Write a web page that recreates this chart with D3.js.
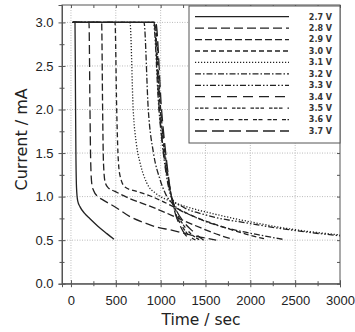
<!DOCTYPE html>
<html>
<head>
<meta charset="utf-8">
<script src="https://cdn.jsdelivr.net/npm/d3@7"></script>
<style>
  body { margin: 0; background: #fff; }
  svg { display: block; font-family: "DejaVu Sans", Verdana, sans-serif; }
</style>
</head>
<body>
<svg id="chart" width="355" height="332"></svg>
<script>
// data: [time (sec), current (mA)]
var voltages = ["2.7 V", "2.8 V", "2.9 V", "3.0 V", "3.1 V", "3.2 V", "3.3 V", "3.4 V", "3.5 V", "3.6 V", "3.7 V"];
var c27 = [[20,3.0],[45,3.0],[50,2.2],[55,1.5],[62,1.1],[75,0.95],[100,0.885],[150,0.81],[212,0.745],[300,0.66],[400,0.575],[480,0.51]];
var c28 = [[20,3.0],[201,3.0],[212,2.0],[220,1.4],[232,1.15],[252,1.07],[300,1.0],[360,0.96],[510,0.87],[658,0.77],[844,0.69],[992,0.64],[1104,0.62],[1330,0.56],[1620,0.5]];
var c29 = [[20,3.0],[342,3.0],[353,2.0],[362,1.4],[380,1.17],[416,1.1],[490,1.06],[650,0.98],[880,0.89],[1000,0.84],[1200,0.75],[1450,0.64],[1650,0.56],[1810,0.51]];
var c30 = [[20,3.0],[491,3.0],[510,2.0],[524,1.5],[545,1.25],[602,1.11],[732,1.06],[880,1.01],[992,0.96],[1150,0.88],[1400,0.76],[1700,0.65],[1950,0.57],[2180,0.51]];
var c31 = [[20,3.0],[658,3.0],[694,2.0],[730,1.6],[770,1.39],[844,1.16],[955,1.03],[1104,0.95],[1300,0.88],[1600,0.8],[2000,0.71],[2500,0.62],[3000,0.56]];
var c32 = [[20,3.0],[814,3.0],[862,2.0],[920,1.5],[992,1.2],[1060,1.02],[1150,0.9],[1350,0.78],[1600,0.68],[1900,0.6],[2150,0.55],[2360,0.51]];
var c33 = [[20,3.0],[918,3.0],[981,2.0],[1030,1.5],[1080,1.15],[1130,0.97],[1250,0.88],[1500,0.79],[2000,0.69],[2500,0.61],[3000,0.55]];
var c34 = [[20,3.0],[925,3.0],[985,2.0],[1040,1.45],[1100,1.08],[1160,0.88],[1250,0.72],[1360,0.6],[1480,0.5]];
var c35 = [[20,3.0],[930,3.0],[995,2.0],[1050,1.45],[1110,1.05],[1170,0.84],[1250,0.68],[1330,0.58],[1440,0.5]];
var c36 = [[20,3.0],[936,3.0],[1000,2.0],[1055,1.45],[1115,1.03],[1170,0.8],[1240,0.66],[1300,0.57],[1390,0.5]];
var c37 = [[20,3.0],[945,3.0],[1010,2.0],[1062,1.45],[1120,1.0],[1165,0.8],[1220,0.66],[1270,0.57],[1340,0.5]];
var curves = [c27, c28, c29, c30, c31, c32, c33, c34, c35, c36, c37];
var dashes = ["none", "9,4", "7,3", "5,3", "1.2,1.8", "6,2,1.5,2", "6,2,1.5,2,1.5,2", "10,6", "3.5,1.5,3.5,1.5,3.5,5", "4,1.5,4,5", "12,5"];
var xTicks = [0, 500, 1000, 1500, 2000, 2500, 3000];
var yTicks = [0, 0.5, 1.0, 1.5, 2.0, 2.5, 3.0];

var margin = {top: 5, right: 15, bottom: 48, left: 62},
    width = 355 - margin.left - margin.right,
    height = 332 - margin.top - margin.bottom - 0.3;

var svg = d3.select("#chart")
  .append("g")
  .attr("transform", `translate(${margin.left}, ${margin.top})`);

var x = d3.scaleLinear().domain([-100, 3000]).range([0, width]);
var y = d3.scaleLinear().domain([0, 3.2]).range([height, 0]);

// grid
svg.append("g").selectAll("line")
  .data(xTicks.filter(d => d < 3000))
  .enter().append("line")
  .attr("x1", d => x(d)).attr("x2", d => x(d))
  .attr("y1", 0).attr("y2", height)
  .attr("stroke", "#bbb").attr("stroke-dasharray", "1,1.5");
svg.append("g").selectAll("line")
  .data(yTicks.filter(d => d > 0))
  .enter().append("line")
  .attr("x1", 0).attr("x2", width)
  .attr("y1", d => y(d)).attr("y2", d => y(d))
  .attr("stroke", "#bbb").attr("stroke-dasharray", "1,1.5");

// axes
var minorX = d3.range(250, 3000, 500);
var minorY = d3.range(0.25, 3.2, 0.5);

var gx = svg.append("g")
  .attr("transform", `translate(0, ${height})`)
  .call(d3.axisBottom(x).tickValues(xTicks).tickFormat(d3.format("d")).tickSize(3.5).tickPadding(9));
gx.selectAll(".tick line").attr("y1", -3.5);
gx.selectAll(".tick text").attr("font-size", 13).attr("fill", "#222");
var gxm = svg.append("g")
  .attr("transform", `translate(0, ${height})`)
  .call(d3.axisBottom(x).tickValues(minorX).tickFormat("").tickSize(2.5));
gxm.selectAll(".tick line").attr("y1", -2.5);
gxm.select(".domain").remove();

var gy = svg.append("g")
  .call(d3.axisLeft(y).tickValues(yTicks).tickFormat(d3.format(".1f")).tickSize(3.5).tickPadding(5));
gy.selectAll(".tick line").attr("x1", 3.5);
gy.selectAll(".tick text").attr("font-size", 13).attr("fill", "#222");
var gym = svg.append("g")
  .call(d3.axisLeft(y).tickValues(minorY).tickFormat("").tickSize(2.5));
gym.selectAll(".tick line").attr("x1", 2.5);
gym.select(".domain").remove();

// mirror ticks top / right
svg.append("g")
  .call(d3.axisTop(x).tickValues(xTicks.concat(minorX)).tickFormat("").tickSize(-3))
  .select(".domain").remove();
svg.append("g")
  .attr("transform", `translate(${width}, 0)`)
  .call(d3.axisRight(y).tickValues(yTicks.concat(minorY)).tickFormat("").tickSize(-3))
  .select(".domain").remove();

svg.selectAll(".domain, .tick line").attr("stroke", "#555");

svg.append("rect")
  .attr("width", width).attr("height", height)
  .attr("fill", "none").attr("stroke", "#555");

// curves
var line = d3.line()
  .x(d => x(d[0]))
  .y(d => y(d[1]))
  .curve(d3.curveMonotoneX);

svg.append("g").selectAll("path")
  .data(curves)
  .enter().append("path")
  .attr("d", line)
  .attr("fill", "none")
  .attr("stroke", "#222")
  .attr("stroke-width", 1.3)
  .attr("stroke-dasharray", (d, i) => dashes[i]);

// legend
var lg = svg.append("g").attr("transform", `translate(${127}, ${1})`);
lg.append("rect")
  .attr("width", width - 127).attr("height", 137)
  .attr("fill", "#fff").attr("stroke", "#555");
var rows = lg.selectAll("g.row")
  .data(voltages)
  .enter().append("g")
  .attr("transform", (d, i) => `translate(0, ${10.7 + i * 11.43})`);
rows.append("line")
  .attr("x1", 6).attr("x2", 100)
  .attr("stroke", "#222").attr("stroke-width", 1.3)
  .attr("stroke-dasharray", (d, i) => dashes[i]);
rows.append("text")
  .attr("x", 143).attr("dy", "0.35em")
  .attr("text-anchor", "end")
  .attr("font-size", 8).attr("font-weight", "bold").attr("fill", "#333")
  .text(d => d);

// axis titles
svg.append("text")
  .attr("x", width / 2).attr("y", height + 41)
  .attr("text-anchor", "middle").attr("font-size", 15.5).attr("fill", "#222")
  .text("Time / sec");
svg.append("text")
  .attr("transform", `translate(${-35}, ${height / 2 - 5}) rotate(-90)`)
  .attr("text-anchor", "middle").attr("font-size", 16).attr("fill", "#222")
  .text("Current / mA");
</script>
</body>
</html>
